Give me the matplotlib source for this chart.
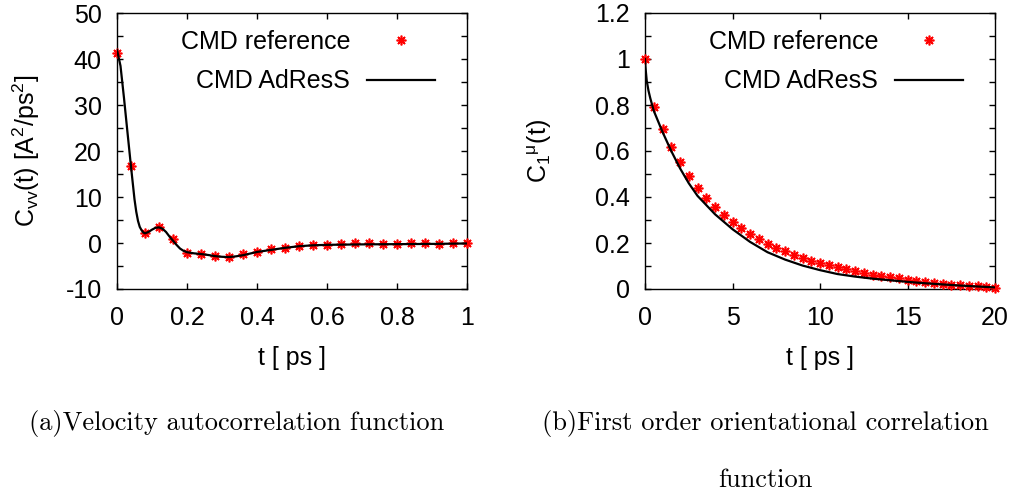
import matplotlib
matplotlib.use("Agg")
import matplotlib.pyplot as plt
from matplotlib.ticker import MultipleLocator, FormatStrFormatter

plt.rcParams['font.family'] = ['Liberation Sans', 'DejaVu Sans']
plt.rcParams['mathtext.fontset'] = 'custom'
plt.rcParams['mathtext.rm'] = 'Liberation Sans'
plt.rcParams['mathtext.it'] = 'Liberation Sans:italic'
plt.rcParams['mathtext.default'] = 'regular'

# (a) velocity autocorrelation
t_ref_a = [0.00, 0.04, 0.08, 0.12, 0.16, 0.20, 0.24, 0.28, 0.32, 0.36, 0.40, 0.44, 0.48,
           0.52, 0.56, 0.60, 0.64, 0.68, 0.72, 0.76, 0.80, 0.84, 0.88, 0.92, 0.96, 1.00]
c_ref_a = [41.2, 16.7, 2.2, 3.4, 0.9, -2.2, -2.5, -2.9, -3.1, -2.5, -1.9, -1.4, -1.1,
           -0.6, -0.4, -0.4, -0.3, -0.1, -0.1, -0.3, -0.3, -0.1, -0.1, -0.2, -0.1, 0.0]
t_adr_a = [0.0, 0.01, 0.02, 0.03, 0.04, 0.05, 0.055, 0.06, 0.065, 0.07, 0.075, 0.08,
           0.09, 0.10, 0.11, 0.12, 0.13, 0.14, 0.15, 0.16, 0.17, 0.18, 0.19, 0.20, 0.22,
           0.24, 0.26, 0.28, 0.30, 0.32, 0.34, 0.36, 0.38, 0.40, 0.44, 0.48, 0.52, 0.56,
           0.60, 0.70, 0.80, 0.90, 1.00]
c_adr_a = [42.0, 38.5, 31.5, 24.0, 16.6, 9.5, 6.8, 4.8, 3.5, 2.8, 2.3, 2.1,
           2.4, 2.9, 3.3, 3.4, 3.1, 2.4, 1.4, 0.5, -0.4, -1.2, -1.7, -2.0, -2.25,
           -2.4, -2.6, -2.85, -3.0, -3.05, -2.9, -2.65, -2.3, -1.95, -1.5, -1.05, -0.7, -0.5,
           -0.4, -0.3, -0.25, -0.2, -0.1]

# (b) first order orientational correlation
t_ref_b = [i * 0.5 for i in range(41)]
c_ref_b = [1.0, 0.79, 0.696, 0.619, 0.551, 0.493, 0.441, 0.396, 0.357, 0.322, 0.291,
           0.264, 0.238, 0.216, 0.196, 0.178, 0.164, 0.148, 0.135, 0.123, 0.112,
           0.103, 0.094, 0.086, 0.077, 0.070, 0.062, 0.057, 0.051, 0.046, 0.041,
           0.036, 0.032, 0.026, 0.023, 0.019, 0.016, 0.014, 0.012, 0.009, 0.004]
t_adr_b = [0, 0.02, 0.05, 0.1, 0.2, 0.3, 0.5, 1, 1.5, 2, 2.5, 3, 4, 5, 6, 7, 8, 9, 10,
           11, 12, 13, 14, 15, 16, 17, 18, 19, 20]
c_adr_b = [1.0, 0.972, 0.945, 0.905, 0.862, 0.830, 0.775, 0.683, 0.600, 0.525, 0.460,
           0.405, 0.325, 0.260, 0.205, 0.160, 0.128, 0.102, 0.082, 0.065, 0.054, 0.045,
           0.038, 0.031, 0.025, 0.020, 0.015, 0.011, 0.007]

FS = 18
star = (8, 2, 0)

fig = plt.figure(figsize=(10.19, 4.98), dpi=100)
ax1 = fig.add_axes([117 / 1019, 209 / 498, 350 / 1019, 276 / 498])
ax2 = fig.add_axes([645 / 1019, 209 / 498, 350 / 1019, 276 / 498])


def style(ax):
    ax.tick_params(which='both', direction='in', top=True, right=True,
                   labelsize=FS, width=1)
    ax.tick_params(which='major', length=4.5)
    ax.tick_params(which='minor', length=4)
    ax.tick_params(axis='y', pad=11)
    ax.tick_params(axis='x', pad=12)
    for s in ax.spines.values():
        s.set_linewidth(1)
    ax.xaxis.set_major_formatter(FormatStrFormatter('%g'))
    ax.yaxis.set_major_formatter(FormatStrFormatter('%g'))


ax1.plot(t_ref_a, c_ref_a, ls='none', marker=star, ms=7, mew=1.2, color='red',
         label='CMD reference', clip_on=False, zorder=3)
ax1.plot(t_adr_a, c_adr_a, color='black', lw=1.6, label='CMD AdResS', zorder=4)
ax1.set_xlim(0, 1)
ax1.set_ylim(-10, 50)
ax1.xaxis.set_major_locator(MultipleLocator(0.2))
ax1.yaxis.set_major_locator(MultipleLocator(10))
ax1.yaxis.set_minor_locator(MultipleLocator(5))
style(ax1)
ax1.set_xlabel('t [ ps ]', fontsize=FS)
ax1.set_ylabel(r'C$_{vv}$(t) [A$^2$/ps$^2$]', fontsize=FS)
ax1.xaxis.set_label_coords(0.5, -0.205)
ax1.yaxis.set_label_coords(-0.215, 0.5)

ax2.plot(t_ref_b, c_ref_b, ls='none', marker=star, ms=7, mew=1.2, color='red',
         label='CMD reference', clip_on=False, zorder=3)
ax2.plot(t_adr_b, c_adr_b, color='black', lw=1.6, label='CMD AdResS', zorder=4)
ax2.set_xlim(0, 20)
ax2.set_ylim(0, 1.2)
ax2.xaxis.set_major_locator(MultipleLocator(5))
ax2.yaxis.set_major_locator(MultipleLocator(0.2))
ax2.yaxis.set_minor_locator(MultipleLocator(0.1))
style(ax2)
ax2.set_xlabel('t [ ps ]', fontsize=FS)
ax2.set_ylabel(r'C$_1$$^{\mu}$(t)', fontsize=FS)
ax2.xaxis.set_label_coords(0.5, -0.205)
ax2.yaxis.set_label_coords(-0.26, 0.5)

for ax in (ax1, ax2):
    ax.legend(loc='upper right', bbox_to_anchor=(0.909, 0.938), frameon=False,
              markerfirst=False, fontsize=FS, handlelength=2.72, handletextpad=0.68,
              labelspacing=0.61, borderpad=0, borderaxespad=0)

fig.text(237 / 1019, 1 - 423 / 498, '(a)Velocity autocorrelation function',
         family='cmr10', fontsize=19, ha='center', va='center')
fig.text(765 / 1019, 1 - 423 / 498, '(b)First order orientational correlation',
         family='cmr10', fontsize=19, ha='center', va='center')
fig.text(765 / 1019, 1 - 480 / 498, 'function',
         family='cmr10', fontsize=19, ha='center', va='center')

fig.savefig('out.png', dpi=100)
